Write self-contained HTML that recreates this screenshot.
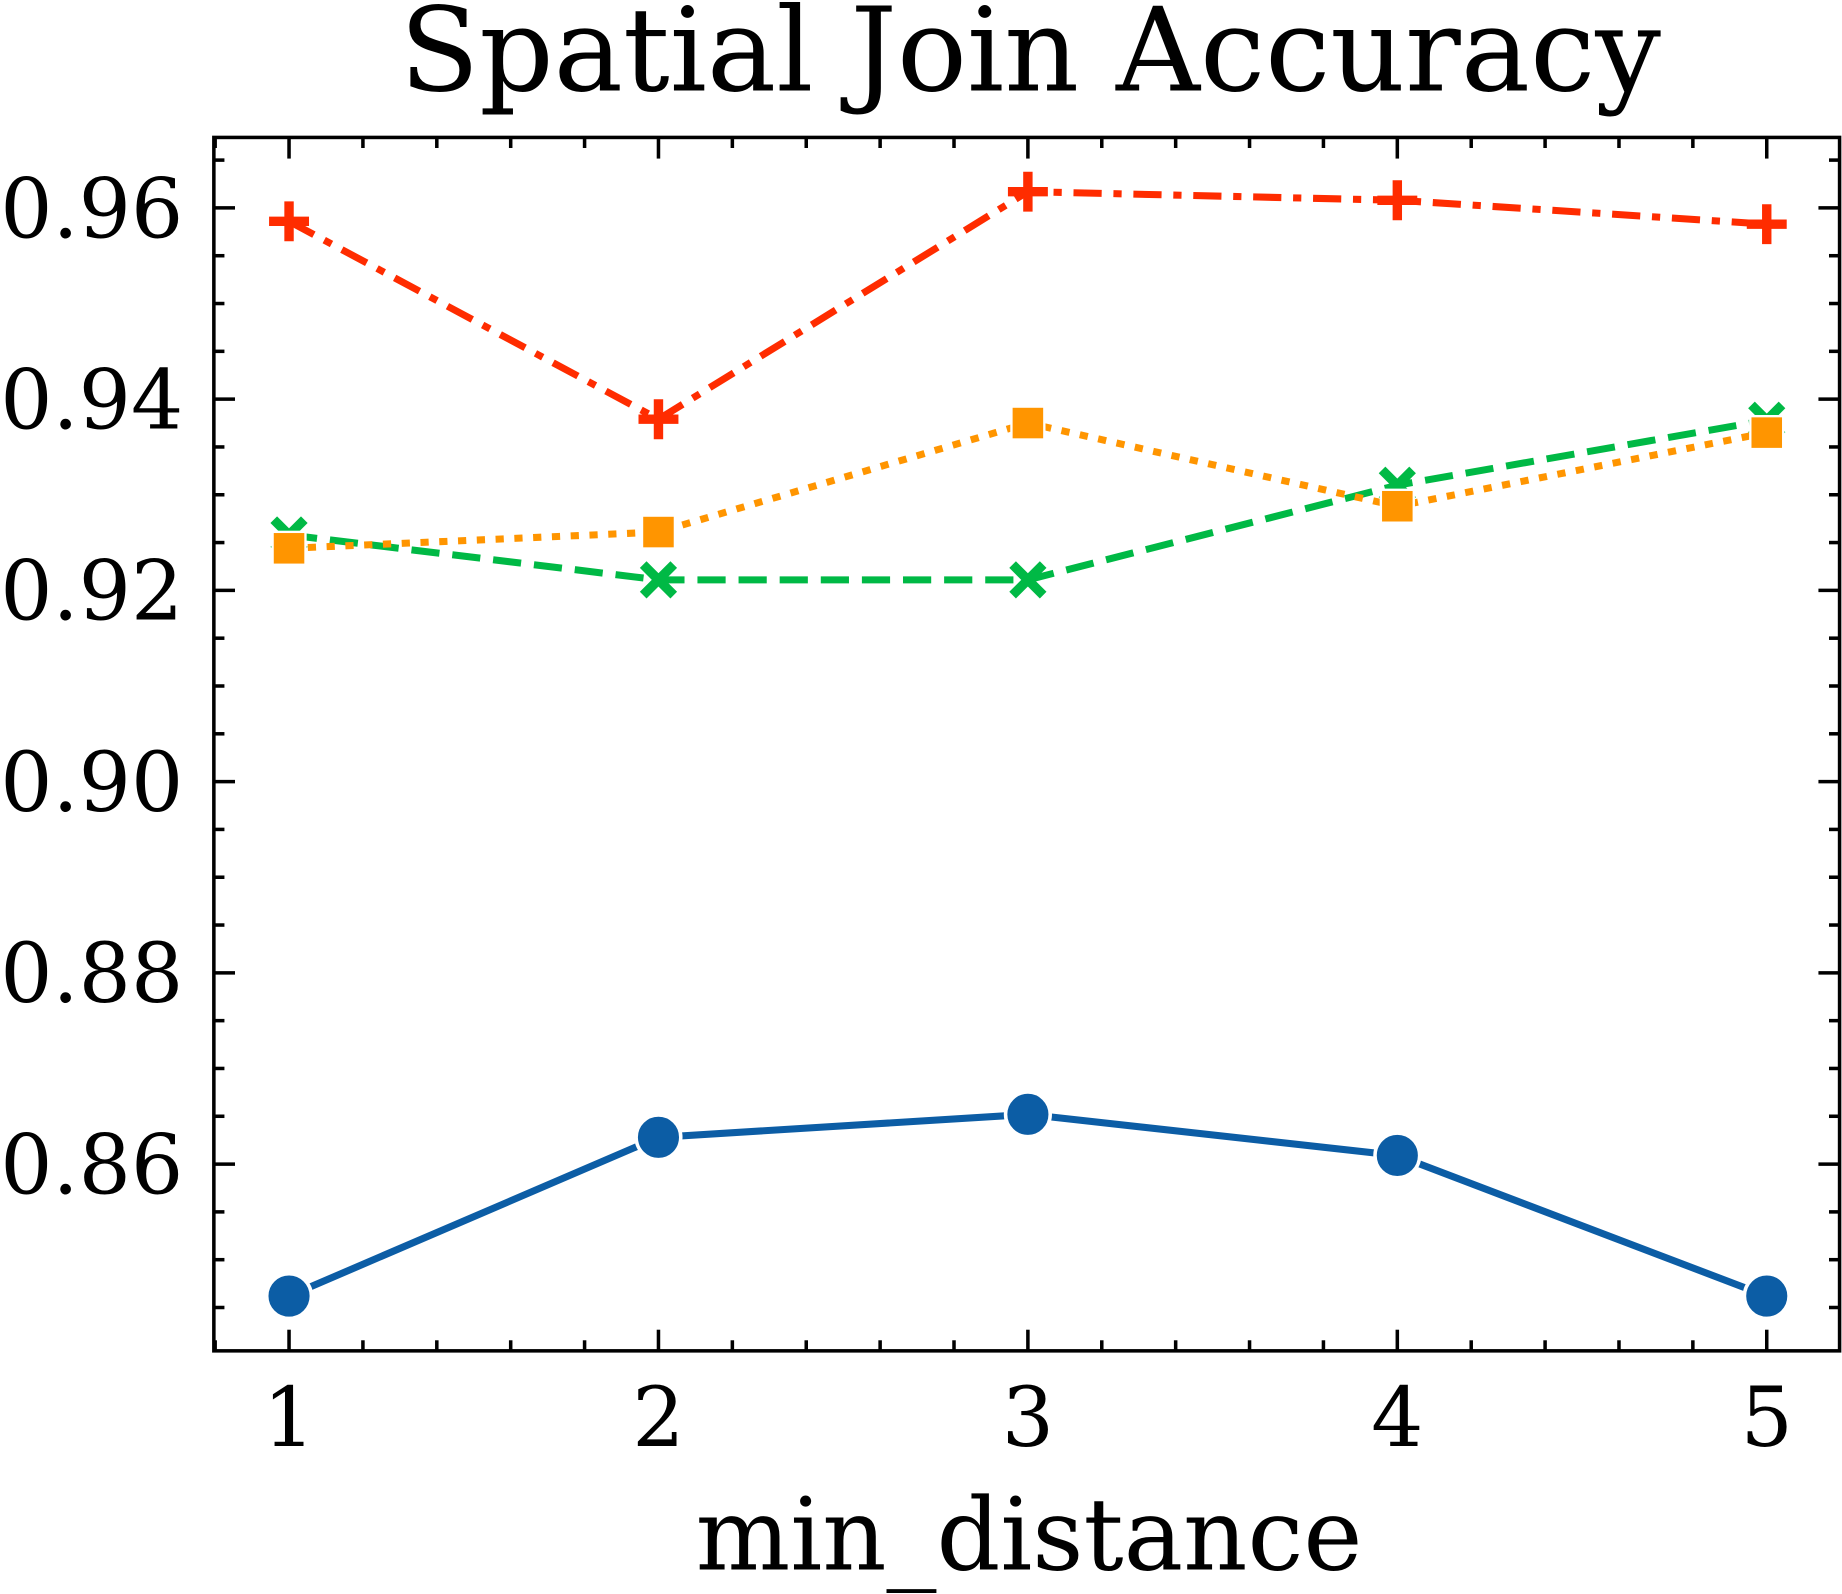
<!DOCTYPE html>
<html><head><meta charset="utf-8"><style>
html,body{margin:0;padding:0;background:#fff;}
svg{display:block;}
text{font-family:"DejaVu Serif","Liberation Serif",serif;fill:#000;}
</style></head><body>
<svg id="chart" width="1842" height="1594" viewBox="0 0 1568 1357" xmlns="http://www.w3.org/2000/svg">
<text x="877" y="77" font-size="99" text-anchor="middle">Spatial Join Accuracy</text>
<text x="876" y="1336" font-size="85" text-anchor="middle">min_distance</text>
<g id="plot"></g>
</svg>
<script>
const categories = [1, 2, 3, 4, 5];
const blueValues = [0.8462, 0.8628, 0.8652, 0.8609, 0.8462];
const greenValues = [0.9258, 0.9211, 0.9211, 0.9310, 0.9378];
const orangeValues = [0.9244, 0.9261, 0.9375, 0.9288, 0.9365];
const redValues = [0.9586, 0.9379, 0.9617, 0.9608, 0.9583];
const yTickLabels = ["0.86", "0.88", "0.90", "0.92", "0.94", "0.96"];
const xTickLabels = ["1", "2", "3", "4", "5"];

const NS = "http://www.w3.org/2000/svg";
const g = document.getElementById('plot');
const L = 182, R = 1566, T = 117, B = 1150;
function xs(v){ return 246 + (v - 1) * 314.5; }
function ys(v){ return 991 - (v - 0.86) * 8140; }
function mk(tag, attrs){ const e = document.createElementNS(NS, tag); for (const k in attrs) e.setAttribute(k, attrs[k]); g.appendChild(e); return e; }

const yTicks = yTickLabels.map(Number);
for (let v = 0.845; v <= 0.9661; v += 0.005) {
  const y = ys(v);
  const major = yTicks.some(t => Math.abs(t - v) < 1e-6);
  const len = major ? 18 : 9;
  const t1 = mk('line', {x1: L, x2: L + len, y1: y, y2: y, stroke: '#000', 'stroke-width': 3});
  
  
  const t2 = mk('line', {x1: R, x2: R - len, y1: y, y2: y, stroke: '#000', 'stroke-width': 3});
  
  
}
yTickLabels.forEach(lbl => {
  const t = mk('text', {x: 156, y: ys(Number(lbl)) + 25, 'font-size': 70, 'text-anchor': 'end'});
  t.textContent = lbl;
  
  
});
for (let v = 0.8; v <= 5.41; v += 0.2) {
  const x = xs(v);
  if (x < L || x > R) continue;
  const major = Math.abs(v - Math.round(v)) < 1e-6;
  const len = major ? 18 : 9;
  const t1 = mk('line', {x1: x, x2: x, y1: B, y2: B - len, stroke: '#000', 'stroke-width': 3});
  
  
  const t2 = mk('line', {x1: x, x2: x, y1: T, y2: T + len, stroke: '#000', 'stroke-width': 3});
  
  
}
xTickLabels.forEach(lbl => {
  const t = mk('text', {x: xs(Number(lbl)), y: 1231, 'font-size': 70, 'text-anchor': 'middle'});
  t.textContent = lbl;
  
  
});

function series(vals, color, dash, marker, name){
  const pts = categories.map((c, i) => xs(c) + ',' + ys(vals[i])).join(' ');
  const pl = mk('polyline', {points: pts, fill: 'none', stroke: color, 'stroke-width': 6, 'stroke-dasharray': dash});
  
  
  categories.forEach((c, i) => {
    const x = xs(c), y = ys(vals[i]);
    let m;
    if (marker === 'circle') m = mk('circle', {cx: x, cy: y, r: 19, fill: color, stroke: '#fff', 'stroke-width': 3});
    else if (marker === 'square') m = mk('rect', {x: x - 14, y: y - 14, width: 28, height: 28, fill: color, stroke: '#fff', 'stroke-width': 2});
    else if (marker === 'x') m = mk('path', {d: `M${x-13},${y-13}L${x+13},${y+13}M${x-13},${y+13}L${x+13},${y-13}`, stroke: color, 'stroke-width': 8, fill: 'none'});
    else m = mk('path', {d: `M${x-17},${y}L${x+17},${y}M${x},${y-17}L${x},${y+17}`, stroke: color, 'stroke-width': 8, fill: 'none'});
    
    
  });
}
series(blueValues, '#0C5DA5', 'none', 'circle', 'blue-series');
series(greenValues, '#00B945', '24,11', 'x', 'green-series');
series(orangeValues, '#FF9500', '7,9', 'square', 'orange-series');
series(redValues, '#FF2C00', '24,10,7,10', 'plus', 'red-series');

const frame = mk('rect', {x: L, y: T, width: R - L, height: B - T, fill: 'none', stroke: '#000', 'stroke-width': 3});


</script>
</body></html>
